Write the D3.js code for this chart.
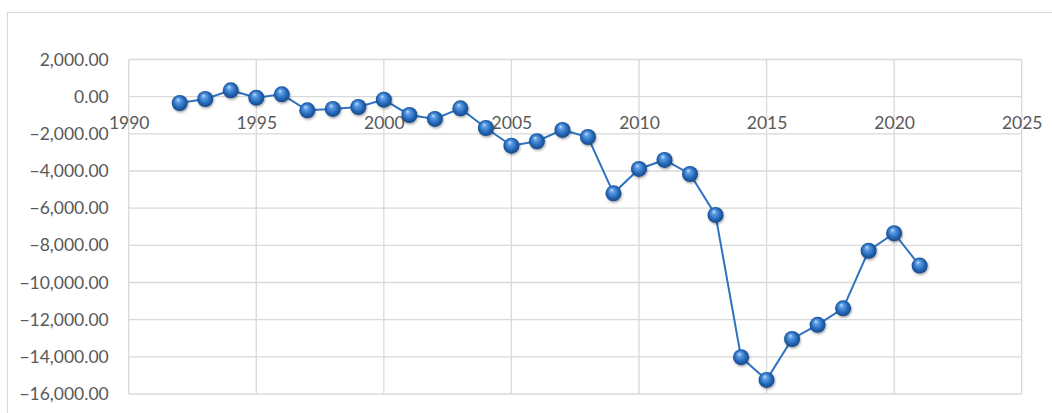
<!DOCTYPE html>
<html>
<head>
<meta charset="utf-8">
<script src="https://cdn.jsdelivr.net/npm/d3@7/dist/d3.min.js"></script>
<style>
  html, body { margin: 0; padding: 0; background: #fff; }
  svg { display: block; }
</style>
</head>
<body>
<svg id="chart"></svg>
<script>
const years = [1992, 1993, 1994, 1995, 1996, 1997, 1998, 1999, 2000, 2001,
  2002, 2003, 2004, 2005, 2006, 2007, 2008, 2009, 2010, 2011,
  2012, 2013, 2014, 2015, 2016, 2017, 2018, 2019, 2020, 2021];
const balance = [-340, -125, 340, -55, 125, -735, -660, -555, -160, -985,
  -1200, -630, -1685, -2635, -2400, -1790, -2170, -5200, -3890, -3405,
  -4160, -6365, -14020, -15240, -13040, -12280, -11390, -8290, -7350, -9090];
const xTicks = [1990, 1995, 2000, 2005, 2010, 2015, 2020, 2025];
const yTicks = [2000, 0, -2000, -4000, -6000, -8000, -10000, -12000, -14000, -16000];

const width = 1052;
const height = 413;
const plot = { left: 128.7, right: 1021.7, top: 59.5, bottom: 394 };
const gridColor = '#d9d9d9';
const textColor = '#595959';
const font = 'Lato, "Open Sans", sans-serif';

const svg = d3.select('#chart')
  .attr('width', width)
  .attr('height', height);

// Marker look: glossy sphere.
const defs = svg.append('defs');
const grad = defs.append('radialGradient')
  .attr('id', 'ball')
  .attr('cx', '50%').attr('cy', '50%').attr('r', '55%')
  .attr('fx', '38%').attr('fy', '28%');
grad.append('stop').attr('offset', '0%').attr('stop-color', '#c4defa');
grad.append('stop').attr('offset', '25%').attr('stop-color', '#5b9ce4');
grad.append('stop').attr('offset', '65%').attr('stop-color', '#2468ba');
grad.append('stop').attr('offset', '100%').attr('stop-color', '#143f78');
const shadow = defs.append('filter').attr('id', 'shadow')
  .attr('x', '-50%').attr('y', '-50%').attr('width', '200%').attr('height', '200%');
shadow.append('feDropShadow')
  .attr('dx', 0.8).attr('dy', 1.5).attr('stdDeviation', 1.1)
  .attr('flood-color', '#000').attr('flood-opacity', 0.35);

// Outer chart frame (runs off the picture on the right and bottom).
svg.append('rect')
  .attr('x', 7.5).attr('y', 12.5)
  .attr('width', 1200).attr('height', 600)
  .attr('fill', 'none')
  .attr('stroke', gridColor)
  .attr('stroke-width', 1.2);

const x = d3.scaleLinear().domain([1990, 2025]).range([plot.left, plot.right]);
const y = d3.scaleLinear().domain([-16000, 2000]).range([plot.bottom, plot.top]);

// Gridlines
const grid = svg.append('g').attr('stroke', gridColor).attr('stroke-width', 1.3);
grid.selectAll('line.h')
  .data(yTicks)
  .join('line')
  .attr('class', 'h')
  .attr('x1', plot.left).attr('x2', plot.right)
  .attr('y1', (d) => y(d)).attr('y2', (d) => y(d));
grid.selectAll('line.v')
  .data(xTicks)
  .join('line')
  .attr('class', 'v')
  .attr('x1', (d) => x(d)).attr('x2', (d) => x(d))
  .attr('y1', plot.top).attr('y2', plot.bottom);

// Y axis labels
const yAxis = d3.axisLeft(y)
  .tickValues(yTicks)
  .tickSize(0)
  .tickPadding(20)
  .tickFormat(d3.format(',.2f'));
svg.append('g')
  .attr('transform', `translate(${plot.left},0)`)
  .call(yAxis)
  .call((g) => g.select('.domain').remove())
  .call((g) => g.selectAll('text')
    .attr('fill', textColor)
    .attr('font-family', font)
    .attr('font-size', 17.5));

// X axis labels sit on the zero line
const xAxis = d3.axisBottom(x)
  .tickValues(xTicks)
  .tickSize(0)
  .tickPadding(32)
  .tickFormat(d3.format('d'));
svg.append('g')
  .attr('transform', `translate(0,${y(0)})`)
  .call(xAxis)
  .call((g) => g.select('.domain').remove())
  .call((g) => g.selectAll('text')
    .attr('fill', textColor)
    .attr('font-family', font)
    .attr('font-size', 17.5)
    .attr('dy', '0'));

const data = years.map((yr, i) => ({ year: yr, value: balance[i] }));

svg.append('path')
  .datum(data)
  .attr('fill', 'none')
  .attr('stroke', '#2e72c0')
  .attr('stroke-width', 2)
  .attr('d', d3.line().x((d) => x(d.year)).y((d) => y(d.value)));

svg.append('g')
  .selectAll('circle')
  .data(data)
  .join('circle')
  .attr('cx', (d) => x(d.year))
  .attr('cy', (d) => y(d.value))
  .attr('r', 8)
  .attr('fill', 'url(#ball)')
  .attr('filter', 'url(#shadow)');
</script>
</body>
</html>
